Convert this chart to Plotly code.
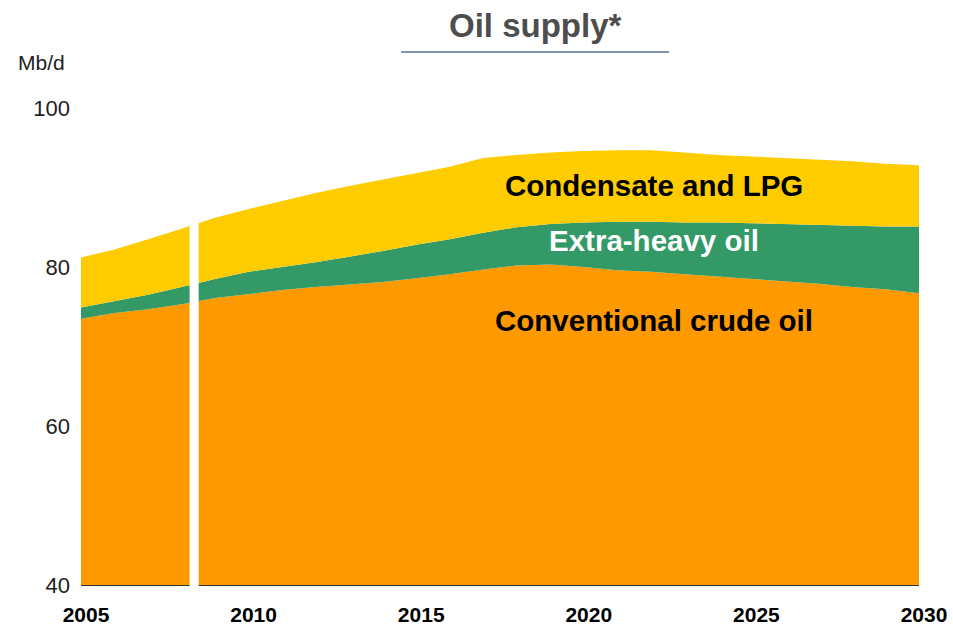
import plotly.graph_objects as go

# Oil supply by type, million barrels per day
years = list(range(2005, 2031))
conventional_crude = [73.5, 74.2, 74.7, 75.3, 76.1, 76.6, 77.1, 77.5, 77.8, 78.1,
                      78.6, 79.1, 79.7, 80.2, 80.3, 80.0, 79.6, 79.4, 79.1, 78.8,
                      78.5, 78.2, 77.9, 77.5, 77.2, 76.7]
extra_heavy = [1.4, 1.5, 1.8, 2.2, 2.4, 2.8, 2.9, 3.1, 3.5, 3.9,
               4.2, 4.4, 4.6, 4.8, 5.1, 5.6, 6.1, 6.3, 6.5, 6.8,
               7.0, 7.2, 7.4, 7.7, 7.9, 8.4]
condensate_lpg = [6.3, 6.5, 7.0, 7.3, 7.7, 7.9, 8.3, 8.7, 8.9, 9.0,
                  9.0, 9.1, 9.4, 9.1, 9.0, 9.0, 9.0, 9.0, 8.8, 8.5,
                  8.4, 8.3, 8.2, 8.1, 7.9, 7.7]
tick_years = [2005, 2010, 2015, 2020, 2025, 2030]
y_ticks = [40, 60, 80, 100]

# break between historical data and projections
break_start, break_end = 2008.24, 2008.51

series = [
    ("Conventional crude oil", conventional_crude, "#FF9900"),
    ("Extra-heavy oil", extra_heavy, "#339966"),
    ("Condensate and LPG", condensate_lpg, "#FFCC00"),
]

FONT = "Liberation Sans, Arial, sans-serif"

fig = go.Figure()
for name, vals, color in series:
    fig.add_trace(go.Scatter(
        x=years, y=vals, name=name, mode="lines",
        stackgroup="supply", line=dict(width=0, color=color),
        fillcolor=color, hoverinfo="x+y+name",
    ))

label_font = dict(family=FONT, size=29.5)
fig.add_annotation(x=2022.1, y=90.2, text="<b>Condensate and LPG</b>",
                   showarrow=False, font=dict(label_font, color="black"))
fig.add_annotation(x=2022.1, y=83.3, text="<b>Extra-heavy oil</b>",
                   showarrow=False, font=dict(label_font, color="white"))
fig.add_annotation(x=2022.1, y=73.3, text="<b>Conventional crude oil</b>",
                   showarrow=False, font=dict(label_font, color="black"))

# title with rule beneath
fig.add_annotation(xref="paper", yref="paper", x=0.542, y=1.172,
                   xanchor="center", yanchor="middle",
                   text="<b>Oil supply*</b>", showarrow=False,
                   font=dict(family=FONT, size=33, color="#4d4d4d"))
fig.add_shape(type="line", xref="paper", yref="paper",
              x0=0.382, x1=0.7017, y0=1.1174, y1=1.1174,
              line=dict(color="#8096B0", width=2))
fig.add_annotation(xref="paper", yref="paper", x=-0.078, y=1.0964,
                   xanchor="left", yanchor="middle", text="Mb/d",
                   showarrow=False,
                   font=dict(family=FONT, size=21, color="#222222"))

fig.add_shape(type="rect", xref="x", yref="paper",
              x0=break_start, x1=break_end, y0=-0.01, y1=1.0,
              fillcolor="white", line=dict(width=0), layer="above")

fig.update_layout(
    width=953, height=626,
    margin=dict(l=81, r=34, t=108, b=41, autoexpand=False),
    paper_bgcolor="white", plot_bgcolor="white",
    showlegend=False,
    xaxis=dict(range=[2005, 2030], tickvals=tick_years,
               ticktext=[f"<b>{y}</b>" for y in tick_years],
               automargin=False,
               showgrid=False, zeroline=False, showline=True,
               linecolor="#333333", linewidth=1, ticks="",
               ticklabelshift=5, ticklabelstandoff=11,
               tickfont=dict(family=FONT, size=21, color="black")),
    yaxis=dict(range=[40, 100], tickvals=y_ticks, showgrid=False,
               automargin=False,
               zeroline=False, showline=False, ticks="",
               ticklabelstandoff=10,
               tickfont=dict(family=FONT, size=22, color="#222222")),
)

fig.write_html("out.html")
